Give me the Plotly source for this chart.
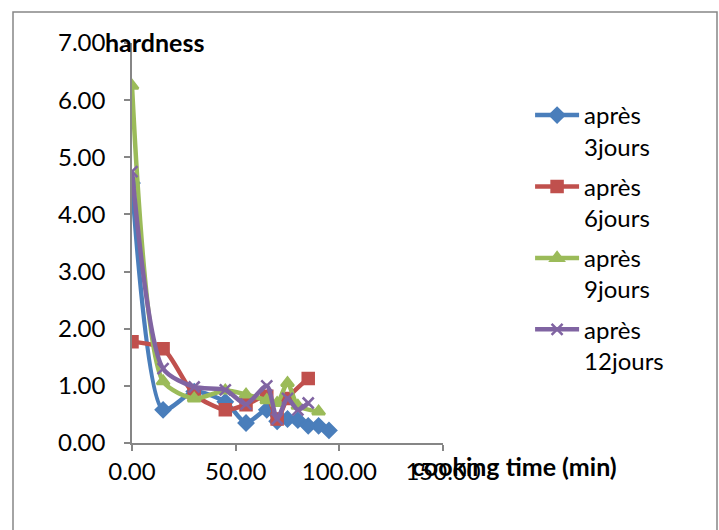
import plotly.graph_objects as go

# Hardness measurements over cooking time, per storage duration
time_3j = [0, 15, 30, 45, 55, 65, 70, 75, 80, 85, 90, 95]
hard_3j = [4.55, 0.58, 0.90, 0.72, 0.35, 0.58, 0.38, 0.42, 0.40, 0.30, 0.30, 0.22]

time_6j = [0, 15, 30, 45, 55, 65, 70, 75, 85]
hard_6j = [1.77, 1.65, 0.85, 0.58, 0.67, 0.82, 0.42, 0.78, 1.13]

time_9j = [0, 15, 30, 45, 55, 65, 70, 75, 80, 90]
hard_9j = [6.25, 1.08, 0.78, 0.92, 0.85, 0.75, 0.70, 1.05, 0.65, 0.55]

time_12j = [0, 15, 30, 45, 55, 65, 70, 75, 80, 85]
hard_12j = [4.75, 1.30, 0.98, 0.93, 0.68, 1.00, 0.42, 0.78, 0.58, 0.70]

series_names = ["après<br>3jours", "après<br>6jours", "après<br>9jours", "après<br>12jours"]
x_ticks = [0, 50, 100, 150]
y_ticks = [0, 1, 2, 3, 4, 5, 6, 7]

FONT = "Lato"
styles = [
    ("#4A7EBB", "diamond"),
    ("#C0504D", "square"),
    ("#9BBB59", "triangle-up"),
    ("#8064A2", "x-thin-open"),
]

fig = go.Figure()
data = [(time_3j, hard_3j), (time_6j, hard_6j), (time_9j, hard_9j), (time_12j, hard_12j)]
for i, ((xs, ys), name, (color, sym)) in enumerate(zip(data, series_names, styles)):
    fig.add_trace(go.Scatter(
        x=xs, y=ys, name=name, mode="lines+markers",
        legendgroup=f"g{i}",
        line=dict(color=color, width=4.5, shape="spline", smoothing=0.7),
        marker=dict(symbol=sym, size=11, color=color,
                    line=dict(color=color, width=2.5)),
    ))

axis_common = dict(
    showgrid=False, zeroline=False, showline=True,
    linecolor="#868686", linewidth=1.5,
    ticks="outside", ticklen=6, tickcolor="#868686", tickwidth=1.5,
    tickfont=dict(family=FONT, size=24, color="#000000"),
    tickformat=".2f",
)

fig.update_xaxes(range=[0, 150], tickvals=x_ticks, **axis_common)
fig.update_yaxes(range=[0, 7], tickvals=y_ticks, ticklabelstandoff=14, **axis_common)

fig.update_layout(
    width=719, height=530,
    margin=dict(l=132, r=276, t=43, b=87),
    paper_bgcolor="white", plot_bgcolor="white",
    showlegend=True,
    legend=dict(
        x=1.28, y=0.875, xanchor="left", yanchor="top",
        font=dict(family=FONT, size=24, color="#000000"),
        valign="top", tracegroupgap=6, itemwidth=44,
        bgcolor="rgba(0,0,0,0)",
    ),
    shapes=[
        dict(type="rect", xref="paper", yref="paper",
             x0=(13 - 132) / 311, x1=(717 - 132) / 311,
             y0=(443 - 540) / 400, y1=(443 - 12) / 400,
             line=dict(color="#868686", width=1.5), fillcolor="rgba(0,0,0,0)",
             layer="below"),
    ],
    # Axis titles are placed as free text at the ends of the axes
    annotations=[
        dict(text="<b>hardness</b>", xref="paper", yref="paper",
             x=(103 - 132) / 311, y=(443 - 42) / 400, xanchor="left", yanchor="middle",
             showarrow=False, font=dict(family=FONT, size=25, color="#000000")),
        dict(text="<b>cooking time (min)</b>", xref="paper", yref="paper",
             x=(410 - 132) / 311, y=(443 - 466) / 400, xanchor="left", yanchor="middle",
             showarrow=False, font=dict(family=FONT, size=25, color="#000000")),
    ],
)

fig.write_html("out.html")
